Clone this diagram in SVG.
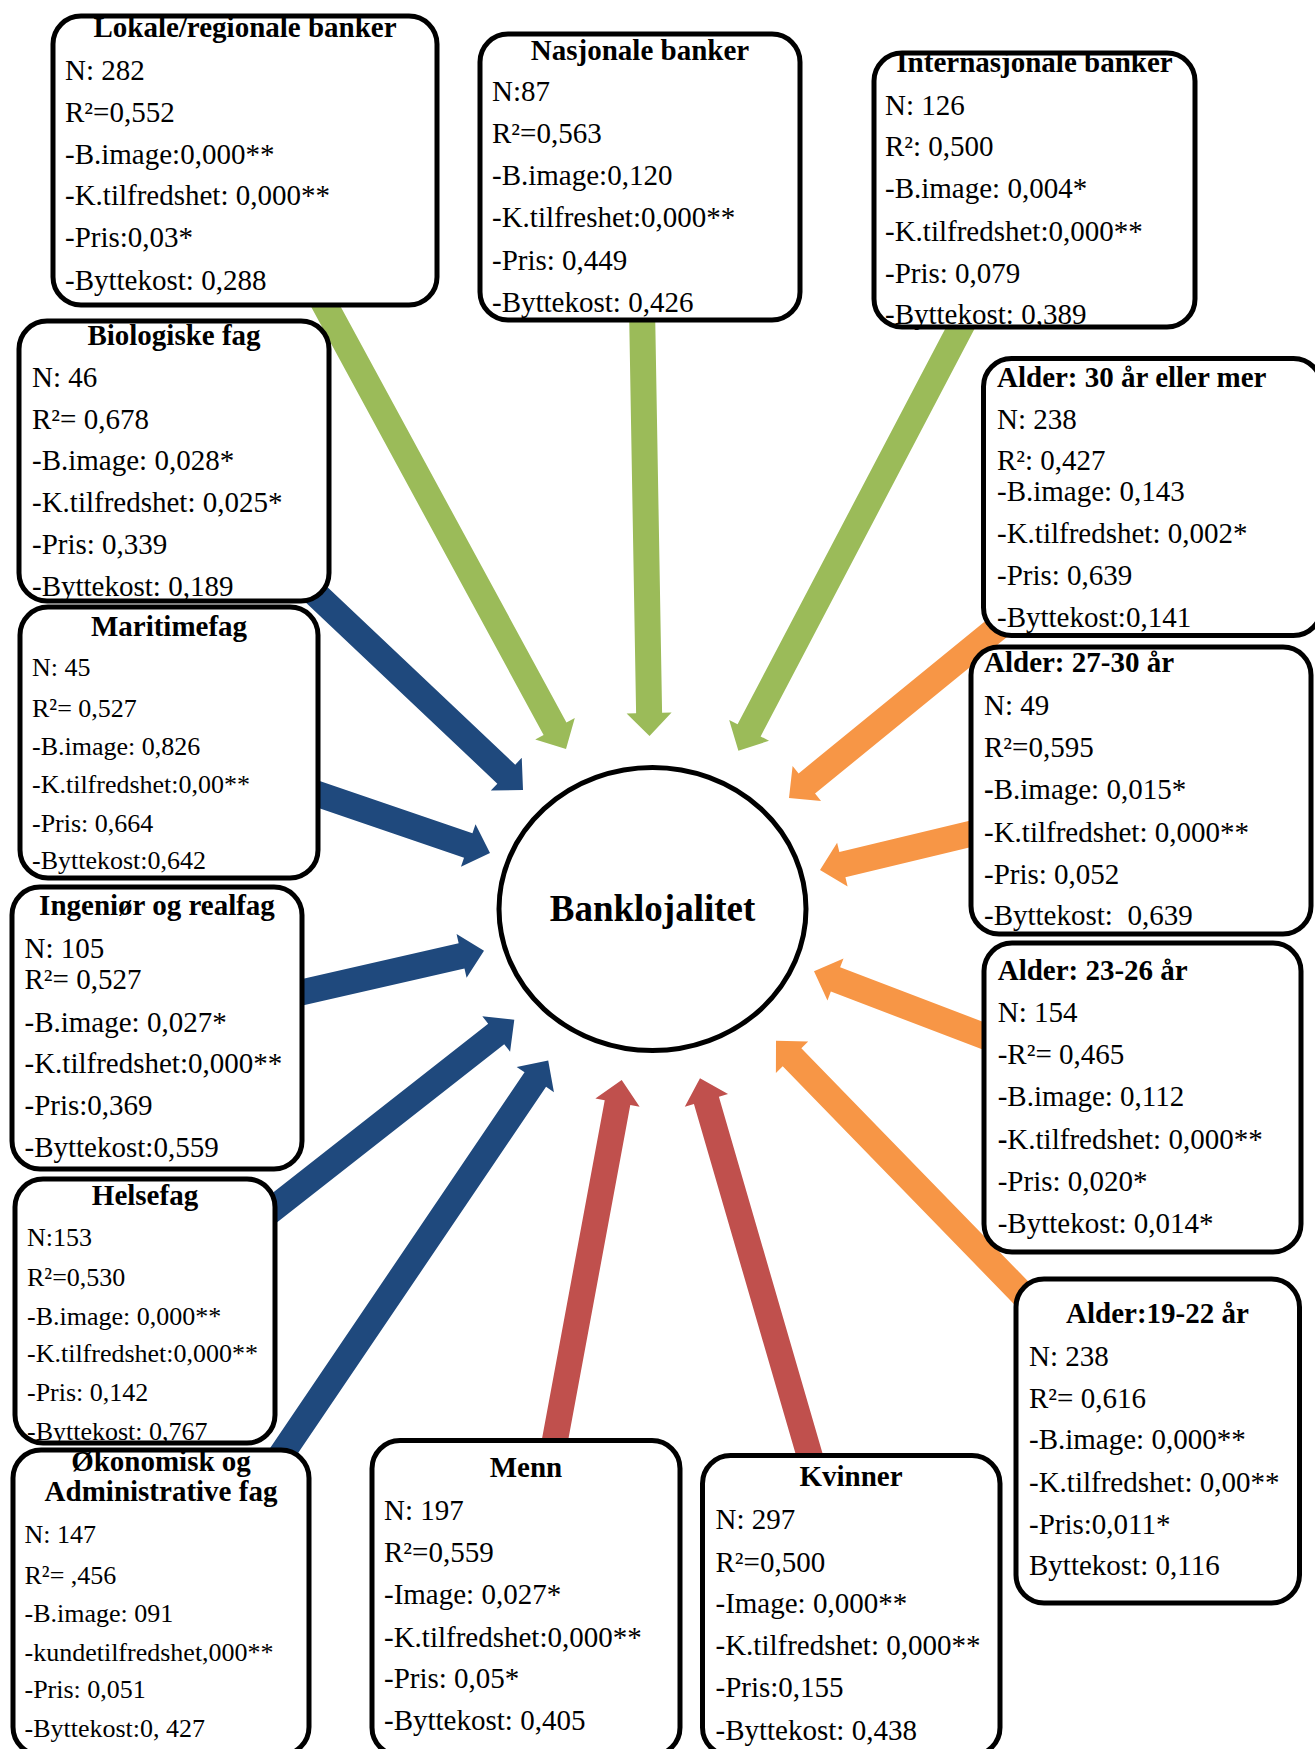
<svg xmlns="http://www.w3.org/2000/svg" width="1315" height="1749" viewBox="0 0 1315 1749">
  <style>
    .box { fill:#ffffff; stroke:#000000; stroke-width:5; }
    .hub { fill:#ffffff; stroke:#000000; stroke-width:5; }
    text { font-family:"Liberation Serif","Times New Roman",serif; font-size:29px; fill:#000000; }
    .sm text { font-size:26px; }
    text.title { font-weight:bold; text-anchor:middle; font-size:29px; }
    text.titleL { font-weight:bold; font-size:29px; }
    text.hubtxt { font-weight:bold; font-size:37px; text-anchor:middle; }
    .bd { font-weight:bold; }
    .green { fill:#9BBB59; }
    .blue { fill:#1F497D; }
    .orange { fill:#F79646; }
    .red { fill:#C0504D; }
  </style>
  <rect x="0" y="0" width="1315" height="1749" fill="#ffffff"/>

  <!-- block arrows: tip at local origin, pointing along +x -->
  <g id="connectors">
    <polygon class="green" transform="translate(566,749) rotate(61.5)" points="0,0 -23,-22.5 -23,-13 -543,-13 -543,13 -23,13 -23,22.5"/>
    <polygon class="green" transform="translate(649.5,736) rotate(89)" points="0,0 -23,-22.5 -23,-13 -450,-13 -450,13 -23,13 -23,22.5"/>
    <polygon class="green" transform="translate(738.4,750.7) rotate(117.7)" points="0,0 -23,-22.5 -23,-13 -520,-13 -520,13 -23,13 -23,22.5"/>
    <polygon class="blue" transform="translate(523,790) rotate(43.4)" points="0,0 -23,-22.5 -23,-13 -310,-13 -310,13 -23,13 -23,22.5"/>
    <polygon class="blue" transform="translate(490,853) rotate(18.9)" points="0,0 -23,-22.5 -23,-13 -210,-13 -210,13 -23,13 -23,22.5"/>
    <polygon class="blue" transform="translate(484,950.7) rotate(-12.9)" points="0,0 -23,-22.5 -23,-13 -215,-13 -215,13 -23,13 -23,22.5"/>
    <polygon class="blue" transform="translate(514.3,1019.8) rotate(-38.1)" points="0,0 -23,-22.5 -23,-13 -335,-13 -335,13 -23,13 -23,22.5"/>
    <polygon class="blue" transform="translate(548.2,1060.5) rotate(-55.9)" points="0,0 -23,-22.5 -23,-13 -500,-13 -500,13 -23,13 -23,22.5"/>
    <polygon class="orange" transform="translate(789,798) rotate(140.8)" points="0,0 -23,-22.5 -23,-13 -300,-13 -300,13 -23,13 -23,22.5"/>
    <polygon class="orange" transform="translate(820,870) rotate(166.5)" points="0,0 -23,-22.5 -23,-13 -190,-13 -190,13 -23,13 -23,22.5"/>
    <polygon class="orange" transform="translate(814,971.2) rotate(-159.1)" points="0,0 -23,-22.5 -23,-13 -215,-13 -215,13 -23,13 -23,22.5"/>
    <polygon class="orange" transform="translate(776,1040.7) rotate(-134.2)" points="0,0 -23,-22.5 -23,-13 -390,-13 -390,13 -23,13 -23,22.5"/>
    <polygon class="red" transform="translate(621.7,1080) rotate(-79.5)" points="0,0 -23,-22.5 -23,-13 -400,-13 -400,13 -23,13 -23,22.5"/>
    <polygon class="red" transform="translate(700,1078.3) rotate(-106.2)" points="0,0 -23,-22.5 -23,-13 -430,-13 -430,13 -23,13 -23,22.5"/>
  </g>

  <!-- central node -->
  <g id="banklojalitet">
    <ellipse class="hub" cx="652.5" cy="909" rx="153.5" ry="141.5"/>
    <text class="hubtxt" x="652.5" y="921">Banklojalitet</text>
  </g>

  <!-- bank type -->
  <g id="lokale-banker">
    <rect class="box" x="53" y="16" width="384" height="289" rx="28"/>
    <text class="title" x="245" y="37">Lokale/regionale banker</text>
    <text x="65" y="80">N: 282</text>
    <text x="65" y="122">R²=0,552</text>
    <text x="65" y="163.5">-B.image:0,000**</text>
    <text x="65" y="205">-K.tilfredshet: 0,000**</text>
    <text x="65" y="247">-Pris:0,03*</text>
    <text x="65" y="290">-Byttekost: 0,288</text>
  </g>

  <g id="nasjonale-banker">
    <rect class="box" x="480" y="34" width="320" height="286" rx="28"/>
    <text class="title" x="640" y="60">Nasjonale banker</text>
    <text x="492" y="101">N:87</text>
    <text x="492" y="143">R²=0,563</text>
    <text x="492" y="185">-B.image:0,120</text>
    <text x="492" y="227">-K.tilfreshet:0,000**</text>
    <text x="492" y="270">-Pris: 0,449</text>
    <text x="492" y="312">-Byttekost: 0,426</text>
  </g>

  <g id="internasjonale-banker">
    <rect class="box" x="874" y="53" width="321" height="274" rx="28"/>
    <text class="title" x="1034.5" y="72">Internasjonale banker</text>
    <text x="885" y="115">N: 126</text>
    <text x="885" y="156">R²: 0,500</text>
    <text x="885" y="198">-B.image: 0,004*</text>
    <text x="885" y="241">-K.tilfredshet:0,000**</text>
    <text x="885" y="283">-Pris: 0,079</text>
    <text x="885" y="324">-Byttekost: 0,389</text>
  </g>

  <!-- field of study -->
  <g id="biologiske-fag">
    <rect class="box" x="19" y="321" width="310" height="280" rx="28"/>
    <text class="title" x="174" y="344.5">Biologiske fag</text>
    <text x="32" y="387">N: 46</text>
    <text x="32" y="428.5">R²= 0,678</text>
    <text x="32" y="470">-B.image: 0,028*</text>
    <text x="32" y="512">-K.tilfredshet: 0,025*</text>
    <text x="32" y="553.5">-Pris: 0,339</text>
    <text x="32" y="595.5">-Byttekost: 0,189</text>
  </g>

  <g id="maritimefag" class="sm">
    <rect class="box" x="20" y="607" width="298" height="271" rx="28"/>
    <text class="title" x="169" y="635.5">Maritimefag</text>
    <text x="32" y="675.5">N: 45</text>
    <text x="32" y="717">R²= 0,527</text>
    <text x="32" y="754.5">-B.image: 0,826</text>
    <text x="32" y="792.5">-K.tilfredshet:0,00**</text>
    <text x="32" y="831.5">-Pris: 0,664</text>
    <text x="32" y="869">-Byttekost:0,642</text>
  </g>

  <g id="ingenior-realfag">
    <rect class="box" x="12" y="887" width="290" height="282" rx="28"/>
    <text class="title" x="157" y="915">Ingeniør og realfag</text>
    <text x="24.5" y="958">N: 105</text>
    <text x="24.5" y="989">R²= 0,527</text>
    <text x="24.5" y="1031.5">-B.image: 0,027*</text>
    <text x="24.5" y="1073">-K.tilfredshet:0,000**</text>
    <text x="24.5" y="1115">-Pris:0,369</text>
    <text x="24.5" y="1156.5">-Byttekost:0,559</text>
  </g>

  <g id="helsefag" class="sm">
    <rect class="box" x="15" y="1179" width="260" height="264" rx="28"/>
    <text class="title" x="145" y="1205">Helsefag</text>
    <text x="27" y="1245.5">N:153</text>
    <text x="27" y="1286">R²=0,530</text>
    <text x="27" y="1324.5">-B.image: 0,000**</text>
    <text x="27" y="1362">-K.tilfredshet:0,000**</text>
    <text x="27" y="1401">-Pris: 0,142</text>
    <text x="27" y="1439.5">-Byttekost: 0,767</text>
  </g>

  <g id="okonomisk-administrative-fag" class="sm">
    <rect class="box" x="13" y="1450" width="296" height="305" rx="28"/>
    <text class="title" x="161" y="1470.5">Økonomisk og</text>
    <text class="title" x="161" y="1501">Administrative fag</text>
    <text x="24.5" y="1543">N: 147</text>
    <text x="24.5" y="1584">R²= ,456</text>
    <text x="24.5" y="1622">-B.image: 091</text>
    <text x="24.5" y="1660.5">-kundetilfredshet,000**</text>
    <text x="24.5" y="1698">-Pris: 0,051</text>
    <text x="24.5" y="1737">-Byttekost:0, 427</text>
  </g>

  <!-- gender -->
  <g id="menn">
    <rect class="box" x="372" y="1440.5" width="308" height="315" rx="28"/>
    <text class="title" x="526" y="1477">Menn</text>
    <text x="384" y="1520">N: 197</text>
    <text x="384" y="1561.5">R²=0,559</text>
    <text x="384" y="1603.5">-Image: 0,027*</text>
    <text x="384" y="1646.5">-K.tilfredshet:0,000**</text>
    <text x="384" y="1688">-Pris: 0,05*</text>
    <text x="384" y="1730">-Byttekost: 0,405</text>
  </g>

  <g id="kvinner">
    <rect class="box" x="702.5" y="1455.5" width="297.5" height="300" rx="28"/>
    <text class="title" x="851" y="1485.7">Kvinner</text>
    <text x="715.5" y="1528.5">N: 297</text>
    <text x="715.5" y="1571.5">R²=0,500</text>
    <text x="715.5" y="1612.5">-Image: 0,000**</text>
    <text x="715.5" y="1655">-K.tilfredshet: 0,000**</text>
    <text x="715.5" y="1696.5">-Pris:0,155</text>
    <text x="715.5" y="1739.5">-Byttekost: 0,438</text>
  </g>

  <!-- age -->
  <g id="alder-30-eller-mer">
    <rect class="box" x="983.5" y="358.5" width="338" height="277" rx="28"/>
    <text class="titleL" x="997" y="386.7">Alder: 30 år eller mer</text>
    <text x="997" y="429">N: 238</text>
    <text x="997" y="470">R²: 0,427</text>
    <text x="997" y="500.5">-B.image: 0,143</text>
    <text x="997" y="542.8">-K.tilfredshet: 0,002*</text>
    <text x="997" y="585">-Pris: 0,639</text>
    <text x="997" y="627.3">-Byttekost:0,141</text>
  </g>

  <g id="alder-27-30">
    <rect class="box" x="971" y="647" width="340" height="287" rx="28"/>
    <text class="titleL" x="984" y="672">Alder: 27-30 år</text>
    <text x="984" y="714.7">N: 49</text>
    <text x="984" y="757">R²=0,595</text>
    <text x="984" y="798.8"><tspan class="bd">-</tspan>B.image: 0,015*</text>
    <text x="984" y="841.5">-K.tilfredshet: 0,000**</text>
    <text x="984" y="883.7">-Pris: 0,052</text>
    <text x="984" y="925.3" xml:space="preserve">-Byttekost:  0,639</text>
  </g>

  <g id="alder-23-26">
    <rect class="box" x="984" y="943" width="317" height="309" rx="28"/>
    <text class="titleL" x="997.7" y="980">Alder: 23-26 år</text>
    <text x="997.7" y="1021.5">N: 154</text>
    <text x="997.7" y="1064">-R²= 0,465</text>
    <text x="997.7" y="1105.8">-B.image: 0,112</text>
    <text x="997.7" y="1148.7"><tspan class="bd">-</tspan>K.tilfredshet: 0,000**</text>
    <text x="997.7" y="1191">-Pris: 0,020*</text>
    <text x="997.7" y="1232.8">-Byttekost: 0,014*</text>
  </g>

  <g id="alder-19-22">
    <rect class="box" x="1016" y="1279" width="283.5" height="324" rx="28"/>
    <text class="title" x="1157.5" y="1322.5">Alder:19-22 år</text>
    <text x="1029" y="1366">N: 238</text>
    <text x="1029" y="1407.5">R²= 0,616</text>
    <text x="1029" y="1448.7">-B.image: 0,000**</text>
    <text x="1029" y="1491.8">-K.tilfredshet: 0,00**</text>
    <text x="1029" y="1533.5">-Pris:0,011*</text>
    <text x="1029" y="1575">Byttekost: 0,116</text>
  </g>
</svg>
